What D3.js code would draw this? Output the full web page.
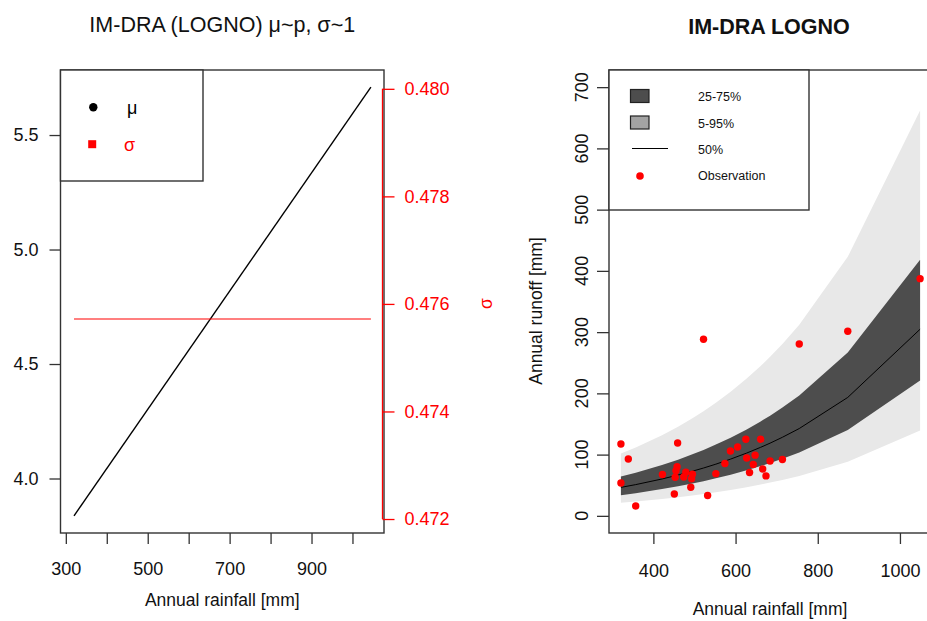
<!DOCTYPE html>
<html>
<head>
<meta charset="utf-8">
<script src="https://cdn.jsdelivr.net/npm/d3@7"></script>
<style>
  html, body { margin: 0; padding: 0; background: #fff; }
  svg { display: block; }
  text { font-family: "Liberation Sans", Arial, sans-serif; }
</style>
</head>
<body>
<svg id="chart" width="927" height="621"></svg>
<script>
// ---- Left panel: fitted distribution parameters vs rainfall ----
const paramRain = [320, 1045];          // rainfall range of the fitted line
const muValues = [3.837, 5.709];        // location parameter μ along that range
const sigmaValue = 0.47572;             // constant σ
const muTicks = [4.0, 4.5, 5.0, 5.5];
const sigmaTicks = [0.472, 0.474, 0.476, 0.478, 0.480];
const leftRainTicks = [300, 400, 500, 600, 700, 800, 900, 1000];
const leftRainLabels = [300, 500, 700, 900];

// ---- Right panel: predicted runoff quantiles and observations ----
const bandRain = [321, 357, 421, 460, 495, 522, 552, 588, 627, 661, 684, 714, 755, 873, 1049];
const q05 = [21.3, 23.3, 27.5, 30.5, 33.3, 35.7, 38.6, 42.4, 46.9, 51.2, 54.3, 58.7, 65.2, 88.4, 139.3];
const q25 = [33.7, 37.0, 43.7, 48.3, 52.9, 56.7, 61.3, 67.2, 74.3, 81.2, 86.1, 93.1, 103.5, 140.3, 221.1];
const q50 = [46.5, 51.0, 60.2, 66.6, 72.9, 78.1, 84.4, 92.7, 102.5, 111.9, 118.7, 128.3, 142.6, 193.4, 304.7];
const q75 = [64.1, 70.3, 83.0, 91.8, 100.5, 107.7, 116.4, 127.7, 141.2, 154.2, 163.6, 176.8, 196.6, 266.6, 418.0];
const q95 = [101.7, 111.5, 131.7, 145.6, 159.4, 170.9, 184.7, 202.6, 224.1, 244.7, 259.6, 280.5, 311.9, 423.0, 662.0];

const obsRain = [321, 339, 321, 357, 459, 422, 457.7, 455, 453, 451, 479, 474, 495, 493, 491, 532, 552, 574,
                 587.5, 605, 625, 627, 647.5, 643, 634, 661, 666, 674, 684, 714, 522, 755, 873, 1049];
const obsRunoff = [117.4, 92.9, 53.7, 16.2, 119.0, 67.6, 80.3, 73.8, 63.0, 35.8, 71.2, 63.5, 67.9, 60.7, 46.7, 33.3, 68.9, 85.6,
                   106.0, 112.5, 125.2, 94.5, 99.1, 83.9, 70.9, 125.2, 76.6, 65.2, 89.6, 91.9, 288.4, 280.7, 301.4, 387.3];
const runoffTicks = [0, 100, 200, 300, 400, 500, 600, 700];
const rightRainTicks = [400, 600, 800, 1000];

const legendBands = ["25-75%", "5-95%", "50%", "Observation"];

const svg = d3.select("#chart");
const FRAME = "#333";
const TICK_FONT = 18;
const LABEL_FONT = 17.5;

// ======================= LEFT PANEL =======================
const L = { left: 60.5, right: 384, top: 70, bottom: 533 };
const xL = d3.scaleLinear().domain([287, 1077]).range([L.left, L.right]);
const yMu = d3.scaleLinear().domain([3.762, 5.784]).range([L.bottom, L.top]);
const ySig = d3.scaleLinear().domain([0.47174, 0.48035]).range([L.bottom, L.top]);

const gL = svg.append("g");

// mu line
gL.append("path")
  .datum(paramRain.map((p, i) => [p, muValues[i]]))
  .attr("fill", "none").attr("stroke", "#000").attr("stroke-width", 1.4)
  .attr("d", d3.line().x(d => xL(d[0])).y(d => yMu(d[1])));

// sigma line
gL.append("path")
  .datum(paramRain.map(p => [p, sigmaValue]))
  .attr("fill", "none").attr("stroke", "#ff0000").attr("stroke-width", 1.1)
  .attr("d", d3.line().x(d => xL(d[0])).y(d => ySig(d[1])));

// frame
gL.append("rect")
  .attr("x", L.left).attr("y", L.top)
  .attr("width", L.right - L.left).attr("height", L.bottom - L.top)
  .attr("fill", "none").attr("stroke", FRAME).attr("stroke-width", 1.4);

// bottom axis
const axL = gL.append("g").attr("transform", `translate(0,${L.bottom})`)
  .call(d3.axisBottom(xL).tickValues(leftRainTicks).tickSize(11).tickPadding(18)
    .tickFormat(d => leftRainLabels.includes(d) ? d : ""));
axL.select(".domain").remove();
axL.selectAll("line").attr("stroke", FRAME).attr("stroke-width", 1.3);
axL.selectAll("text").attr("font-size", TICK_FONT).attr("fill", "#111")
  .attr("font-family", "Liberation Sans, Arial, sans-serif");

gL.append("text").attr("x", (L.left + L.right) / 2).attr("y", 605.5)
  .attr("text-anchor", "middle").attr("font-size", LABEL_FONT).attr("fill", "#111")
  .text("Annual rainfall [mm]");

// left axis (mu)
const ayL = gL.append("g").attr("transform", `translate(${L.left},0)`)
  .call(d3.axisLeft(yMu).tickValues(muTicks).tickSize(11).tickPadding(11).tickFormat(d3.format(".1f")));
ayL.select(".domain").remove();
ayL.selectAll("line").attr("stroke", FRAME).attr("stroke-width", 1.3);
ayL.selectAll("text").attr("font-size", TICK_FONT).attr("fill", "#111")
  .attr("font-family", "Liberation Sans, Arial, sans-serif");

// right axis (sigma), red
const sigX = L.right - 1.5;
const ayR = gL.append("g").attr("transform", `translate(${sigX},0)`)
  .call(d3.axisRight(ySig).tickValues(sigmaTicks).tickSize(12).tickPadding(10).tickFormat(d3.format(".3f")));
ayR.select(".domain").remove();
ayR.selectAll("line").attr("stroke", "#ff0000").attr("stroke-width", 1.3);
ayR.selectAll("text").attr("font-size", TICK_FONT).attr("fill", "#ff0000")
  .attr("font-family", "Liberation Sans, Arial, sans-serif");
gL.append("line")
  .attr("x1", sigX).attr("x2", sigX)
  .attr("y1", ySig(sigmaTicks[0])).attr("y2", ySig(sigmaTicks[sigmaTicks.length - 1]))
  .attr("stroke", "#ff0000").attr("stroke-width", 1.3);

gL.append("text")
  .attr("transform", `translate(492,${(L.top + L.bottom) / 2 + 2}) rotate(-90)`)
  .attr("text-anchor", "middle").attr("font-size", LABEL_FONT).attr("fill", "#ff0000")
  .text("σ");

// legend
gL.append("rect").attr("x", L.left).attr("y", L.top).attr("width", 203 - L.left).attr("height", 181 - L.top)
  .attr("fill", "#fff").attr("stroke", FRAME).attr("stroke-width", 1.4);
gL.append("circle").attr("cx", 93.3).attr("cy", 107.3).attr("r", 4.2).attr("fill", "#000");
gL.append("rect").attr("x", 88.2).attr("y", 140.2).attr("width", 8).attr("height", 8).attr("fill", "#ff0000");
gL.append("text").attr("x", 127).attr("y", 107.5).attr("dy", "0.35em")
  .attr("font-size", TICK_FONT).attr("fill", "#000").text("μ");
gL.append("text").attr("x", 124).attr("y", 144.5).attr("dy", "0.35em")
  .attr("font-size", TICK_FONT).attr("fill", "#ff0000").text("σ");

// title
gL.append("text").attr("x", (L.left + L.right) / 2).attr("y", 32)
  .attr("text-anchor", "middle").attr("font-size", 21.5).attr("fill", "#111")
  .text("IM-DRA (LOGNO) μ~p, σ~1");

// ======================= RIGHT PANEL =======================
const R = { left: 609, right: 932, top: 70, bottom: 533 };
const xR = d3.scaleLinear().domain([292, 1078]).range([R.left, R.right]);
const yR = d3.scaleLinear().domain([-28, 728]).range([R.bottom, R.top]);

const gR = svg.append("g");
const band = (lo, hi) => d3.area()
  .x((d, i) => xR(bandRain[i]))
  .y0((d, i) => yR(lo[i]))
  .y1((d, i) => yR(hi[i]));

gR.append("path").datum(bandRain).attr("fill", "#e8e8e8").attr("d", band(q05, q95));
gR.append("path").datum(bandRain).attr("fill", "#4d4d4d").attr("d", band(q25, q75));
gR.append("path").datum(bandRain)
  .attr("fill", "none").attr("stroke", "#000").attr("stroke-width", 1)
  .attr("d", d3.line().x((d, i) => xR(bandRain[i])).y((d, i) => yR(q50[i])));

gR.selectAll("circle.obs").data(obsRain).join("circle")
  .attr("class", "obs")
  .attr("cx", (d, i) => xR(d)).attr("cy", (d, i) => yR(obsRunoff[i]))
  .attr("r", 3.7).attr("fill", "#ff0000");

// frame
gR.append("rect")
  .attr("x", R.left).attr("y", R.top)
  .attr("width", R.right - R.left).attr("height", R.bottom - R.top)
  .attr("fill", "none").attr("stroke", FRAME).attr("stroke-width", 1.4);

// bottom axis
const axR = gR.append("g").attr("transform", `translate(0,${R.bottom})`)
  .call(d3.axisBottom(xR).tickValues(rightRainTicks).tickSize(11).tickPadding(20).tickFormat(d3.format("d")));
axR.select(".domain").remove();
axR.selectAll("line").attr("stroke", FRAME).attr("stroke-width", 1.3);
axR.selectAll("text").attr("font-size", TICK_FONT).attr("fill", "#111")
  .attr("font-family", "Liberation Sans, Arial, sans-serif");

gR.append("text").attr("x", 770).attr("y", 615)
  .attr("text-anchor", "middle").attr("font-size", LABEL_FONT).attr("fill", "#111")
  .text("Annual rainfall [mm]");

// left axis with labels parallel to the axis
const ayRR = gR.append("g").attr("transform", `translate(${R.left},0)`)
  .call(d3.axisLeft(yR).tickValues(runoffTicks).tickSize(12).tickFormat(""));
ayRR.select(".domain").remove();
ayRR.selectAll("line").attr("stroke", FRAME).attr("stroke-width", 1.3);
gR.selectAll("text.ytick").data(runoffTicks).join("text")
  .attr("class", "ytick")
  .attr("transform", d => `translate(588,${yR(d)}) rotate(-90)`)
  .attr("text-anchor", "middle").attr("font-size", TICK_FONT).attr("fill", "#111")
  .text(d => d);

gR.append("text")
  .attr("transform", `translate(542,311) rotate(-90)`)
  .attr("text-anchor", "middle").attr("font-size", LABEL_FONT).attr("fill", "#111")
  .text("Annual runoff [mm]");

// legend
gR.append("rect").attr("x", R.left).attr("y", R.top).attr("width", 809 - R.left).attr("height", 210 - R.top)
  .attr("fill", "#fff").attr("stroke", FRAME).attr("stroke-width", 1.4);
gR.append("rect").attr("x", 630.5).attr("y", 89.5).attr("width", 18.5).attr("height", 13)
  .attr("fill", "#4d4d4d").attr("stroke", "#222").attr("stroke-width", 1.2);
gR.append("rect").attr("x", 630.5).attr("y", 116).attr("width", 18.5).attr("height", 13)
  .attr("fill", "#a3a3a3").attr("stroke", "#222").attr("stroke-width", 1.2);
gR.append("line").attr("x1", 632).attr("x2", 668).attr("y1", 148.5).attr("y2", 148.5)
  .attr("stroke", "#000").attr("stroke-width", 1.2);
gR.append("circle").attr("cx", 640).attr("cy", 176).attr("r", 3.8).attr("fill", "#ff0000");
const legY = [97, 123.5, 149.5, 176];
gR.selectAll("text.leg").data(legendBands).join("text")
  .attr("class", "leg")
  .attr("x", 698).attr("y", (d, i) => legY[i]).attr("dy", "0.35em")
  .attr("font-size", 12.5).attr("fill", "#111")
  .text(d => d);

// title
gR.append("text").attr("x", 769).attr("y", 34)
  .attr("text-anchor", "middle").attr("font-size", 21.5).attr("font-weight", "bold").attr("fill", "#111")
  .text("IM-DRA LOGNO");
</script>
</body>
</html>
